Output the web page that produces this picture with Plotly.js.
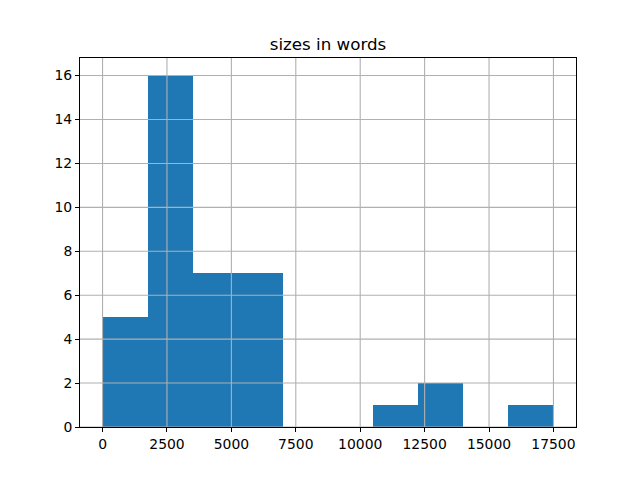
<!DOCTYPE html>
<html>
<head>
<meta charset="utf-8">
<script src="https://cdn.plot.ly/plotly-3.0.1.min.js"></script>
<style>html,body{margin:0;padding:0;background:#fff;}#chart{width:640px;height:480px;}</style>
</head>
<body>
<div id="chart"></div>
<script>
// Histogram of document sizes (words), 10 bins
const binEdges = [0, 1750, 3500, 5250, 7000, 8750, 10500, 12250, 14000, 15750, 17500];
const counts = [5, 16, 7, 7, 0, 0, 1, 2, 0, 1];
const xTicks = [0, 2500, 5000, 7500, 10000, 12500, 15000, 17500];
const yTicks = [0, 2, 4, 6, 8, 10, 12, 14, 16];
const titleText = "sizes in words";

const lefts = binEdges.slice(0, -1);
const widths = lefts.map((e, i) => binEdges[i + 1] - e);
const span = binEdges[binEdges.length - 1] - binEdges[0];
const xRange = [binEdges[0] - 0.05 * span, binEdges[binEdges.length - 1] + 0.05 * span];
const yMax = Math.max(...counts) * 1.05;

const gridColor = "#b0b0b0";
const shapes = [];
xTicks.forEach(v => shapes.push({type: "line", layer: "above", xref: "x", yref: "paper", x0: v, x1: v, y0: 0, y1: 1, line: {color: gridColor, width: 1.1}}));
yTicks.forEach(v => shapes.push({type: "line", layer: "above", xref: "paper", yref: "y", x0: 0, x1: 1, y0: v, y1: v, line: {color: gridColor, width: 1.1}}));

const trace = {
  type: "bar",
  x: lefts,
  y: counts,
  width: widths,
  offset: 0,
  marker: {color: "#1f77b4", line: {width: 0}},
  hoverinfo: "x+y"
};

const axisCommon = {
  showgrid: false,
  zeroline: false,
  showline: true,
  mirror: true,
  linecolor: "#000",
  linewidth: 1,
  ticks: "outside",
  ticklen: 4,
  tickwidth: 1,
  tickcolor: "#000",
  tickfont: {family: "DejaVu Sans", size: 13.9, color: "#000"}
};

const layout = {
  width: 640,
  height: 480,
  paper_bgcolor: "#fff",
  plot_bgcolor: "#fff",
  margin: {l: 80, r: 64, t: 58, b: 53, pad: 0},
  showlegend: false,
  bargap: 0,
  title: {text: titleText, font: {family: "DejaVu Sans", size: 16.7, color: "#000"}, x: 0.5, xref: "paper", y: 1, yref: "paper", yanchor: "bottom", pad: {b: 8}},
  xaxis: Object.assign({}, axisCommon, {range: xRange, tickvals: xTicks, ticktext: xTicks.map(String)}),
  yaxis: Object.assign({}, axisCommon, {range: [0, yMax], tickvals: yTicks, ticktext: yTicks.map(String)}),
  shapes: shapes
};

Plotly.newPlot("chart", [trace], layout, {staticPlot: true, displayModeBar: false});
</script>
</body>
</html>
